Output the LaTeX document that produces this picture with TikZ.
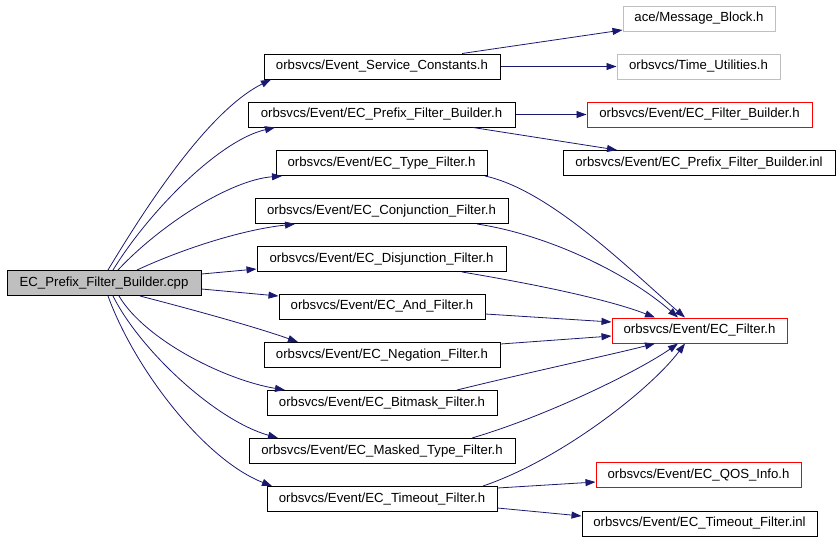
\documentclass[tikz,border=0pt]{standalone}
\usepackage{fontspec}
\setmainfont{Liberation Sans}
\usetikzlibrary{arrows.meta}
\definecolor{edgeblue}{HTML}{191970}
\definecolor{lgray}{HTML}{BFBFBF}
\begin{document}
\begin{tikzpicture}[x=1pt,y=-1pt,
  box/.style={draw=black,line width=1pt,inner sep=0pt,minimum height=25pt,font=\fontsize{13.2}{15}\selectfont},
  rootbox/.style={box,fill=lgray},
  graybox/.style={box,draw=lgray},
  redbox/.style={box,draw=red},
  edge/.style={draw=edgeblue,line width=0.8pt,-{Triangle[length=10pt,width=7pt]}}
]
\useasboundingbox (0,0) rectangle (840,539);
% nodes
\node[rootbox,minimum width=194pt] (root) at (104,283) {EC\_Prefix\_Filter\_Builder.cpp};
\node[graybox,minimum width=152pt] (MB) at (699,18.5) {ace/Message\_Block.h};
\node[box,minimum width=236pt] (ESC) at (382,66.5) {orbsvcs/Event\_Service\_Constants.h};
\node[graybox,minimum width=163pt] (TU) at (698.5,66.5) {orbsvcs/Time\_Utilities.h};
\node[box,minimum width=267pt] (PFB) at (381.5,114.5) {orbsvcs/Event/EC\_Prefix\_Filter\_Builder.h};
\node[redbox,minimum width=225pt] (FB) at (699.5,114.5) {orbsvcs/Event/EC\_Filter\_Builder.h};
\node[box,minimum width=272pt] (PFBinl) at (699,163) {orbsvcs/Event/EC\_Prefix\_Filter\_Builder.inl};
\node[box,minimum width=211pt] (Type) at (381.5,163) {orbsvcs/Event/EC\_Type\_Filter.h};
\node[box,minimum width=253pt] (Conj) at (381.5,211) {orbsvcs/Event/EC\_Conjunction\_Filter.h};
\node[box,minimum width=249pt] (Disj) at (381.5,259) {orbsvcs/Event/EC\_Disjunction\_Filter.h};
\node[box,minimum width=206pt] (And) at (382,306.5) {orbsvcs/Event/EC\_And\_Filter.h};
\node[redbox,minimum width=175pt] (Filter) at (699.5,330.5) {orbsvcs/Event/EC\_Filter.h};
\node[box,minimum width=236pt] (Neg) at (382,355) {orbsvcs/Event/EC\_Negation\_Filter.h};
\node[box,minimum width=230pt] (Bit) at (382,403) {orbsvcs/Event/EC\_Bitmask\_Filter.h};
\node[box,minimum width=266pt] (Masked) at (382,451) {orbsvcs/Event/EC\_Masked\_Type\_Filter.h};
\node[box,minimum width=230pt] (Timeout) at (382,499) {orbsvcs/Event/EC\_Timeout\_Filter.h};
\node[redbox,minimum width=205pt] (QOS) at (698.5,475) {orbsvcs/Event/EC\_QOS\_Info.h};
\node[box,minimum width=235pt] (Toinl) at (699.5,523.5) {orbsvcs/Event/EC\_Timeout\_Filter.inl};
% edges from root
\draw[edge] ([xshift=4pt]root.north) .. controls (150,200) and (210,110) .. ([xshift=-111pt]ESC.south);
\draw[edge] ([xshift=9pt]root.north) .. controls (150,210) and (220,140) .. ([xshift=-106.5pt]PFB.south);
\draw[edge] ([xshift=14pt]root.north) .. controls (160,225) and (230,180) .. ([xshift=-99.5pt]Type.south);
\draw[edge] ([xshift=33pt]root.north) .. controls (180,250) and (240,230) .. ([xshift=-86.5pt]Conj.south);
\draw[edge] ([yshift=9pt]root.east) -- ([yshift=-10pt]Disj.west);
\draw[edge] ([yshift=-6pt]root.east) -- ([yshift=10.5pt]And.west);
\draw[edge] ([xshift=36pt]root.south) .. controls (175,305) and (250,325) .. ([xshift=-84pt]Neg.north);
\draw[edge] ([xshift=15pt]root.south) .. controls (145,340) and (225,380) .. ([xshift=-97pt]Bit.north);
\draw[edge] ([xshift=9pt]root.south) .. controls (140,350) and (215,420) .. ([xshift=-104pt]Masked.north);
\draw[edge] ([xshift=4pt]root.south) .. controls (135,370) and (205,460) .. ([xshift=-110pt]Timeout.north);
% edges to EC_Filter
\draw[edge] ([xshift=103.5pt]Type.south) .. controls (550,190) and (630,270) .. ([xshift=-14.5pt]Filter.north);
\draw[edge] ([xshift=95.5pt]Conj.south) .. controls (550,235) and (630,275) .. ([xshift=-21.5pt]Filter.north);
\draw[edge] ([xshift=80.5pt]Disj.south) .. controls (540,285) and (610,300) .. ([xshift=-44.5pt]Filter.north);
\draw[edge] ([yshift=-7.5pt]And.east) -- ([yshift=8.5pt]Filter.west);
\draw[edge] ([yshift=11pt]Neg.east) -- ([yshift=-5.5pt]Filter.west);
\draw[edge] ([xshift=75pt]Bit.north) .. controls (530,372) and (610,355) .. ([xshift=-44.5pt]Filter.south);
\draw[edge] ([xshift=90pt]Masked.north) .. controls (550,415) and (640,370) .. ([xshift=-21.5pt]Filter.south);
\draw[edge] ([xshift=101pt]Timeout.north) .. controls (560,460) and (650,390) .. ([xshift=-14.5pt]Filter.south);
% other edges
\draw[edge] ([yshift=11pt]Timeout.east) -- ([yshift=-7pt]QOS.west);
\draw[edge] ([yshift=-9pt]Timeout.east) -- ([yshift=7.5pt]Toinl.west);
\draw[edge] ([xshift=80pt]ESC.north) -- ([yshift=-11.5pt]MB.west);
\draw[edge] (ESC.east) -- (TU.west);
\draw[edge] (PFB.east) -- (FB.west);
\draw[edge] ([xshift=91.5pt]PFB.south) -- ([xshift=-82pt]PFBinl.north);
\end{tikzpicture}
\end{document}
